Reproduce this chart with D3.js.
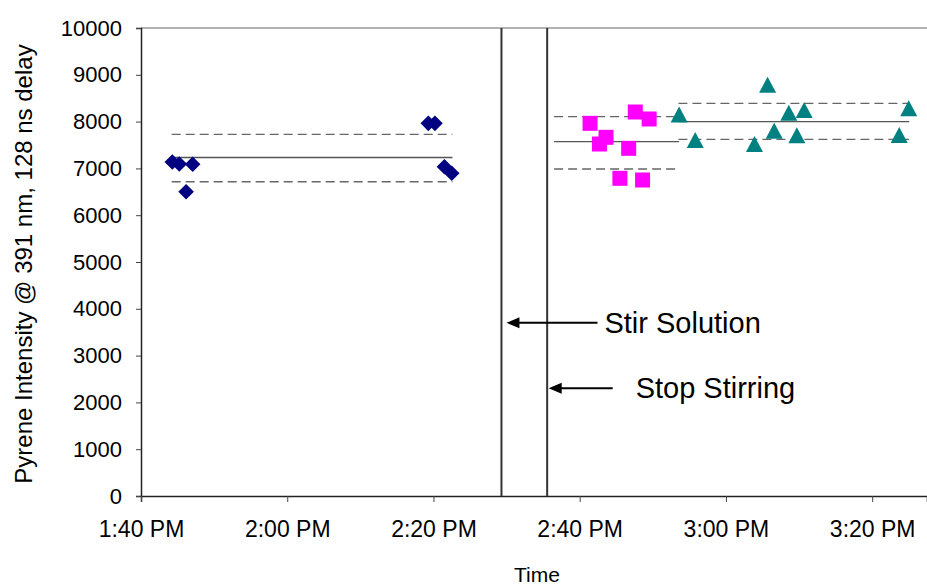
<!DOCTYPE html>
<html>
<head>
<meta charset="utf-8">
<script src="https://cdn.jsdelivr.net/npm/d3@7"></script>
<style>
  html, body { margin: 0; padding: 0; background: #fff; }
  svg { display: block; font-family: "Liberation Sans", Arial, sans-serif; }
</style>
</head>
<body>
<svg id="chart" width="927" height="587"></svg>
<script>
// ---- data ----
const diamondTimes = ["13:44:17","13:45:14","13:47:04","13:46:10","14:19:18","14:20:12","14:21:30","14:22:30"];
const diamondValues = [7137, 7094, 7088, 6502, 7963, 7963, 7036, 6895];

const squareTimes = ["14:41:25","14:43:36","14:42:42","14:47:36","14:49:30","14:46:42","14:45:30","14:48:36"];
const squareValues = [7963, 7664, 7521, 8205, 8056, 7429, 6788, 6752];

const triangleTimes = ["14:53:36","14:55:48","15:03:54","15:05:42","15:06:36","15:08:36","15:09:42","15:10:42","15:23:42","15:25:00"];
const triangleValues = [8152, 7607, 7521, 8788, 7806, 8190, 7707, 8248, 7714, 8284];

// mean and +/- band lines per group
const groupStarts = ["13:44:12", "14:36:30", "14:53:30"];
const groupEnds   = ["14:22:36", "14:53:36", "15:25:04"];
const groupMeans  = [7233, 7571, 7998];
const groupUpper  = [7727, 8105, 8390];
const groupLower  = [6715, 6987, 7622];

const eventTimes = ["14:29:18", "14:35:33"];
const eventLabels = ["Stir Solution", "Stop Stirring"];
const eventLabelValues = [3700, 2300];

const yTicks = [0,1000,2000,3000,4000,5000,6000,7000,8000,9000,10000];
const xTickTimes = ["13:40:00","14:00:00","14:20:00","14:40:00","15:00:00","15:20:00"];
const xDomain = ["13:40:00", "15:27:30"];

const yTitle = "Pyrene Intensity @ 391 nm, 128 ns delay";
const xTitle = "Time";

// ---- setup ----
const parse = d3.timeParse("%Y-%m-%d %H:%M:%S");
const T = s => parse("2000-01-01 " + s);

const svg = d3.select("#chart");
const plotLeft = 141, plotRight = 927, plotTop = 28, plotBottom = 496;

const x = d3.scaleTime().domain(xDomain.map(T)).range([plotLeft, plotRight]);
const y = d3.scaleLinear().domain([0, 10000]).range([plotBottom, plotTop]);

// top border of plot area
svg.append("line")
  .attr("x1", plotLeft).attr("x2", plotRight).attr("y1", y(10000)).attr("y2", y(10000))
  .attr("stroke", "#999").attr("stroke-width", 1.5);

// axes
const yAxis = d3.axisLeft(y).tickValues(yTicks).tickSize(5).tickPadding(14).tickFormat(d3.format("d"));
const gy = svg.append("g").attr("transform", `translate(${plotLeft},0)`).call(yAxis);
gy.select(".domain").attr("stroke", "#222").attr("stroke-width", 1.5);
gy.selectAll(".tick line").attr("stroke", "#444");
gy.selectAll(".tick text").attr("font-size", 22).attr("fill", "#000")
  .attr("font-family", "Liberation Sans, Arial, sans-serif");

const xAxis = d3.axisBottom(x).tickValues(xTickTimes.map(T)).tickSize(6).tickPadding(19)
  .tickFormat(d3.timeFormat("%-I:%M %p"));
const gx = svg.append("g").attr("transform", `translate(0,${plotBottom})`).call(xAxis);
gx.select(".domain").attr("stroke", "#222").attr("stroke-width", 1.5);
gx.selectAll(".tick line").attr("stroke", "#444");
gx.selectAll(".tick text").attr("font-size", 23).attr("fill", "#000")
  .attr("font-family", "Liberation Sans, Arial, sans-serif");

// axis titles
svg.append("text")
  .attr("transform", `translate(32,${(plotTop + plotBottom) / 2 + 2}) rotate(-90)`)
  .attr("text-anchor", "middle").attr("font-size", 24).attr("fill", "#000")
  .text(yTitle);
svg.append("text")
  .attr("x", 537).attr("y", 582).attr("text-anchor", "middle")
  .attr("font-size", 21).attr("fill", "#000").text(xTitle);

// group mean / band lines
const lineG = svg.append("g");
groupMeans.forEach((m, i) => {
  const x1 = x(T(groupStarts[i])), x2 = x(T(groupEnds[i]));
  lineG.append("line").attr("x1", x1).attr("x2", x2).attr("y1", y(m)).attr("y2", y(m))
    .attr("stroke", "#555").attr("stroke-width", 1.3);
  [groupUpper[i], groupLower[i]].forEach(v => {
    lineG.append("line").attr("x1", x1).attr("x2", x2).attr("y1", y(v)).attr("y2", y(v))
      .attr("stroke", "#666").attr("stroke-width", 1.3).attr("stroke-dasharray", "9,5");
  });
});

// event vertical lines
eventTimes.forEach(t => {
  svg.append("line").attr("x1", x(T(t))).attr("x2", x(T(t)))
    .attr("y1", y(10000)).attr("y2", y(0))
    .attr("stroke", "#333").attr("stroke-width", 2);
});

// arrows + labels
const arrowGap = [5, 1.5];
const arrowLen = [91, 64];
const labelGap = [7, 23];
eventTimes.forEach((t, i) => {
  const tipX = x(T(t)) + arrowGap[i], yy = y(eventLabelValues[i]);
  const endX = tipX + arrowLen[i];
  svg.append("line").attr("x1", tipX + 10).attr("x2", endX).attr("y1", yy).attr("y2", yy)
    .attr("stroke", "#000").attr("stroke-width", 2);
  svg.append("path")
    .attr("d", `M${tipX},${yy} L${tipX + 13},${yy - 5.5} L${tipX + 13},${yy + 5.5} Z`)
    .attr("fill", "#000");
  svg.append("text").attr("x", endX + labelGap[i]).attr("y", yy + 10)
    .attr("font-size", 29).attr("fill", "#000").text(eventLabels[i]);
});

// markers
const diamonds = diamondTimes.map((t, i) => ({ t: T(t), v: diamondValues[i] }));
const squares = squareTimes.map((t, i) => ({ t: T(t), v: squareValues[i] }));
const triangles = triangleTimes.map((t, i) => ({ t: T(t), v: triangleValues[i] }));

svg.append("g").selectAll("path").data(diamonds).join("path")
  .attr("d", d => { const cx = x(d.t), cy = y(d.v), r = 7.8;
    return `M${cx},${cy - r} L${cx + r},${cy} L${cx},${cy + r} L${cx - r},${cy} Z`; })
  .attr("fill", "#000080");

svg.append("g").selectAll("rect").data(squares).join("rect")
  .attr("x", d => x(d.t) - 7.5).attr("y", d => y(d.v) - 7.5)
  .attr("width", 15).attr("height", 15).attr("fill", "#FF00FF");

svg.append("g").selectAll("path").data(triangles).join("path")
  .attr("d", d => { const cx = x(d.t), cy = y(d.v);
    return `M${cx},${cy - 8} L${cx + 8.5},${cy + 8} L${cx - 8.5},${cy + 8} Z`; })
  .attr("fill", "#008080");
</script>
</body>
</html>
